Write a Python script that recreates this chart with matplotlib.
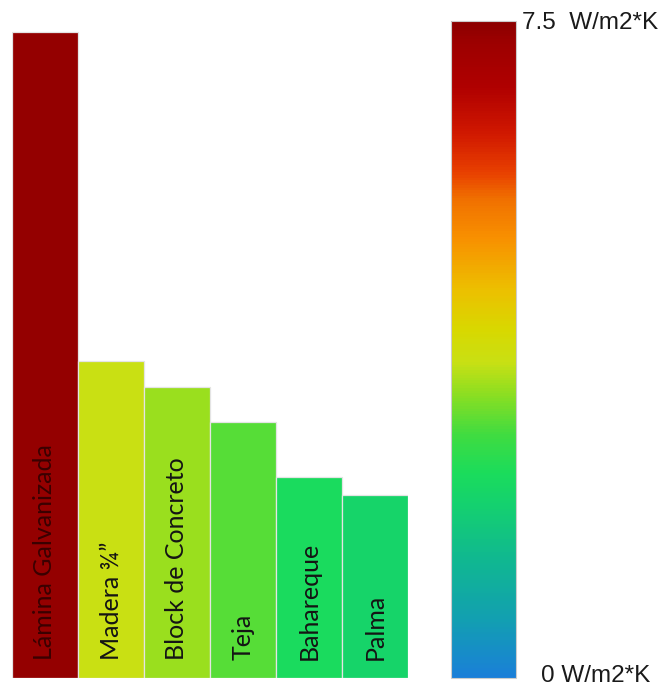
import matplotlib
matplotlib.use("Agg")
import matplotlib.pyplot as plt
from matplotlib.colors import LinearSegmentedColormap, Normalize
from matplotlib.cm import ScalarMappable

materials = ["Lámina Galvanizada", "Madera ¾\u201d", "Block de Concreto", "Teja", "Bahareque", "Palma"]
u_values = [7.37, 3.62, 3.32, 2.92, 2.30, 2.09]
vmin, vmax = 0.0, 7.5
top_label = "7.5  W/m2*K"
bottom_label = "0 W/m2*K"

cmap = LinearSegmentedColormap.from_list("ucmap", [
    (0.00, "#1a7fd8"),
    (0.09, "#12a0b0"),
    (0.18, "#10b890"),
    (0.26, "#14d070"),
    (0.31, "#1adc5c"),
    (0.37, "#40dc40"),
    (0.43, "#8ade22"),
    (0.48, "#c8e014"),
    (0.53, "#d8d800"),
    (0.59, "#ecc000"),
    (0.67, "#f89000"),
    (0.73, "#f07000"),
    (0.77, "#e84000"),
    (0.83, "#d01800"),
    (0.90, "#b00000"),
    (0.97, "#9c0000"),
    (1.00, "#8c0000"),
])
norm = Normalize(vmin, vmax)

W, H = 668, 687
fig = plt.figure(figsize=(W / 100, H / 100), dpi=100)
fig.patch.set_facecolor("white")

y0, y1 = 678, 21
ax = fig.add_axes([12 / W, (H - y0) / H, (408 - 12) / W, (y0 - y1) / H])
x = list(range(len(materials)))
colors = [cmap(norm(v)) for v in u_values]
ax.bar(x, u_values, width=1.0, color=colors, edgecolor="#e4e4e4", linewidth=0.9)
ax.set_xlim(-0.5, len(materials) - 0.5)
ax.set_ylim(vmin, vmax)
ax.axis("off")

label_y = vmax * (678 - 660) / (678 - 21)
for i, (name, v) in enumerate(zip(materials, u_values)):
    tc = "#3a0000" if i == 0 else "#141414"
    ax.text(i, label_y, name, rotation=90, ha="center", va="bottom",
            fontsize=18, family="Lato", color=tc)

cax = fig.add_axes([451 / W, (H - y0) / H, (516 - 451) / W, (y0 - y1) / H])
cb = fig.colorbar(ScalarMappable(norm=norm, cmap=cmap), cax=cax)
cb.set_ticks([])
cb.outline.set_edgecolor("#cccccc")
cb.outline.set_linewidth(0.8)

fig.text(522 / W, (H - 23) / H, top_label, ha="left", va="center",
         fontsize=17.5, family="Liberation Sans", color="#1a1a1a")
fig.text(541 / W, (H - 676) / H, bottom_label, ha="left", va="center",
         fontsize=17.5, family="Liberation Sans", color="#1a1a1a")

fig.savefig("out.png", dpi=100, facecolor="white")
